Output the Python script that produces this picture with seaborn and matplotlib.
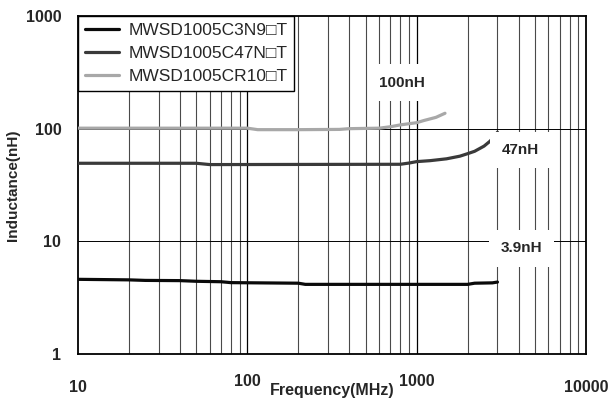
"""
Inductance vs frequency chart (MWSD1005 series)
"""
import matplotlib
matplotlib.use("Agg")
import matplotlib.pyplot as plt
import seaborn as sns
import pandas as pd
import numpy as np

sns.set_theme(style="white")
plt.rcParams['font.family'] = ['Liberation Sans', 'DejaVu Sans']

# data
freq_3n9 = [10, 20, 25, 40, 50, 70, 80, 200, 220, 2000, 2200, 2800, 3000]
ind_3n9 = [4.6, 4.55, 4.5, 4.48, 4.42, 4.38, 4.3, 4.25, 4.15, 4.15, 4.25, 4.28, 4.35]

freq_47n = [10, 50, 60, 800, 900, 1000, 1200, 1500, 1800, 2000, 2200, 2500, 2700, 2900, 3000]
ind_47n = [49.3, 49.3, 48.0, 48.3, 49.5, 51.0, 52.0, 54.0, 57.0, 60.0, 63.0, 70.0, 77.0, 86.0, 93.0]

freq_r10 = [10, 100, 115, 200, 350, 400, 600, 700, 800, 1000, 1100, 1300, 1470]
ind_r10 = [101, 101, 98, 98, 98.5, 100, 101, 104, 108, 113, 118, 126, 137]

series_names = ['MWSD1005C3N9\u25a1T', 'MWSD1005C47N\u25a1T', 'MWSD1005CR10\u25a1T']
series_colors = ['#0a0a0a', '#3a3a3a', '#a8a8a8']
callouts = ['3.9nH', '47nH', '100nH']
callout_x = [4150, 4080, 820]
callout_y = [8.7, 64.7, 255]

xtick_vals = [10, 100, 1000, 10000]
ytick_vals = [1, 10, 100, 1000]

df = pd.concat([
    pd.DataFrame({'freq': freq_3n9, 'ind': ind_3n9, 'part': series_names[0]}),
    pd.DataFrame({'freq': freq_47n, 'ind': ind_47n, 'part': series_names[1]}),
    pd.DataFrame({'freq': freq_r10, 'ind': ind_r10, 'part': series_names[2]}),
])

fig = plt.figure(figsize=(6.09, 4.00), dpi=100)
ax = fig.add_axes([78 / 609, 1 - 354 / 400, 508 / 609, 338 / 400])

sns.lineplot(data=df, x='freq', y='ind', hue='part', palette=series_colors,
             hue_order=series_names, linewidth=2.3, sort=False,
             estimator=None, ax=ax, zorder=3)

ax.set_xscale('log')
ax.set_yscale('log')
ax.set_xlim(10, 10000)
ax.set_ylim(1, 1000)

# grid: all vertical lines, horizontal at decades only
ax.set_axisbelow(True)
for x0 in [10, 100, 1000]:
    for k in range(2, 10):
        ax.axvline(x0 * k, color='#4a4a4a', lw=0.8, zorder=1)
for xv in xtick_vals[1:-1]:
    ax.axvline(xv, color='black', lw=0.9, zorder=1)
for yv in ytick_vals[1:-1]:
    ax.axhline(yv, color='black', lw=0.7, zorder=1)

for s in ax.spines.values():
    s.set_color('black')
    s.set_linewidth(1.3)

# tick labels
ax.set_yticks(ytick_vals)
ax.set_yticklabels([str(v) for v in ytick_vals], fontsize=11.5, fontweight='bold')
ax.yaxis.set_minor_locator(matplotlib.ticker.NullLocator())
ax.tick_params(axis='y', length=0, pad=12)
ax.set_xticks(xtick_vals)
ax.set_xticklabels([])
ax.xaxis.set_minor_locator(matplotlib.ticker.NullLocator())
ax.tick_params(axis='x', length=0)
x_off = [-0.100, -0.080, -0.080, -0.100]
for xv, dy in zip(xtick_vals, x_off):
    ax.text(xv, dy, str(xv), transform=ax.get_xaxis_transform(), ha='center',
            va='center', fontsize=11.5, fontweight='bold', clip_on=False)

ax.set_xlabel('Frequency(MHz)', fontsize=11.5, fontweight='bold', va='center')
ax.xaxis.set_label_coords(0.5, -0.107)
ax.set_ylabel('Inductance(nH)', fontsize=11, fontweight='bold', va='center')
ax.yaxis.set_label_coords(-0.128, 0.5)

# callouts with white boxes
for txt, cx, cy in zip(callouts, callout_x, callout_y):
    ax.text(cx, cy, txt, ha='center', va='center', fontsize=11, fontweight='bold',
            zorder=4, bbox=dict(boxstyle='square,pad=0.75', fc='white', ec='none'))

leg = ax.legend(loc='upper left', borderaxespad=0, frameon=True,
                prop={'family': ['Liberation Sans', 'Noto Sans CJK SC', 'DejaVu Sans'],
                      'size': 12.5},
                fancybox=False, edgecolor='black', framealpha=1,
                handlelength=1.95, handletextpad=0.55, labelspacing=0.45,
                borderpad=0.4, title=None)
leg.get_frame().set_linewidth(1.0)
for h in leg.get_lines():
    h.set_linewidth(2.3)

plt.savefig('out.png', dpi=100)
plt.close()
